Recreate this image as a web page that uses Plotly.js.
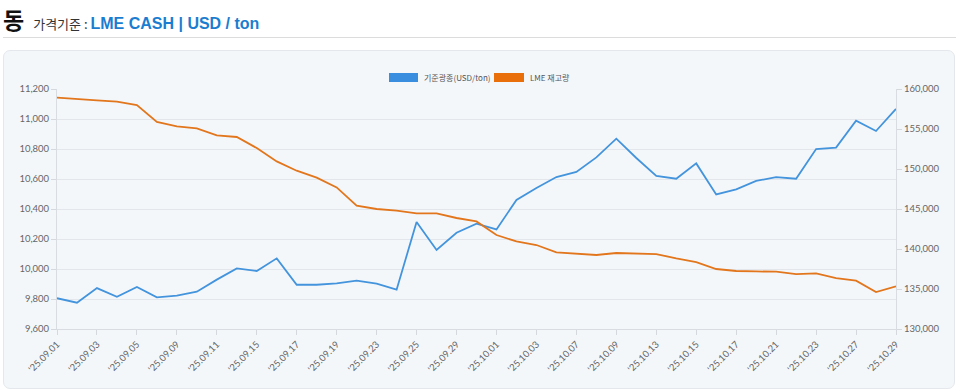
<!DOCTYPE html>
<html>
<head>
<meta charset="utf-8">
<script src="https://cdn.plot.ly/plotly-3.0.1.min.js"></script>
<style>
  html, body { margin: 0; padding: 0; width: 960px; height: 391px; overflow: hidden; background: #ffffff; }
  #hdr { position: absolute; left: 3px; top: 2px; height: 32px; white-space: nowrap; font-family: "Noto Sans CJK KR", "Liberation Sans", sans-serif; }
  #hdr .big { font-size: 23px; font-weight: 700; color: #111; vertical-align: baseline; }
  #hdr .lbl { font-size: 13px; color: #333; margin-left: 9px; vertical-align: baseline; }
  #hdr .val { font-family: "Liberation Sans", Arial, sans-serif; font-size: 16px; font-weight: 700; color: #1b7dcf; vertical-align: baseline; }
  #rule { position: absolute; left: 3px; top: 37px; width: 953px; height: 1px; background: #dcdcdc; }
  #box { position: absolute; left: 3px; top: 50px; width: 950px; height: 337px; background: #f4f7fa; border: 1px solid #e4e8ec; border-radius: 7px; }
  #chart { position: absolute; left: 0; top: 0; width: 960px; height: 391px; }
</style>
</head>
<body>
<div id="hdr"><span class="big">동</span><span class="lbl">가격기준 : </span><span class="val">LME CASH | USD / ton</span></div>
<div id="rule"></div>
<div id="box"></div>
<div id="chart"></div>
<script>
const dates = ["'25.09.01","'25.09.02","'25.09.03","'25.09.04","'25.09.05","'25.09.08","'25.09.09","'25.09.10","'25.09.11","'25.09.12",
  "'25.09.15","'25.09.16","'25.09.17","'25.09.18","'25.09.19","'25.09.22","'25.09.23","'25.09.24","'25.09.25","'25.09.26",
  "'25.09.29","'25.09.30","'25.10.01","'25.10.02","'25.10.03","'25.10.06","'25.10.07","'25.10.08","'25.10.09","'25.10.10",
  "'25.10.13","'25.10.14","'25.10.15","'25.10.16","'25.10.17","'25.10.20","'25.10.21","'25.10.22","'25.10.23","'25.10.24",
  "'25.10.27","'25.10.28","'25.10.29"];

const cashPrice = [9805, 9775, 9873, 9815, 9880, 9811, 9822, 9849, 9929, 10004,
  9987, 10071, 9895, 9895, 9904, 9922, 9902, 9862, 10313, 10127,
  10242, 10302, 10264, 10460, 10540, 10613, 10647, 10744, 10869, 10740,
  10620, 10602, 10704, 10497, 10531, 10587, 10613, 10602, 10800, 10809,
  10989, 10920, 11067];

const lmeStock = [158913, 158787, 158578, 158412, 158000, 155875, 155330, 155080, 154200, 154000,
  152620, 150950, 149787, 148912, 147700, 145412, 145000, 144787, 144450, 144450,
  143875, 143450, 141750, 140950, 140500, 139580, 139450, 139250, 139500, 139450,
  139370, 138820, 138370, 137500, 137250, 137200, 137160, 136870, 136950, 136370,
  136040, 134620, 135330];

const seriesNames = ["기준광종(USD/ton)", "LME 재고량"];
const leftTicks = [9600, 9800, 10000, 10200, 10400, 10600, 10800, 11000, 11200];
const rightTicks = [130000, 135000, 140000, 145000, 150000, 155000, 160000];

const blue = "#4394dc";
const orange = "#e2761c";
const tickFont = { family: "Lato, 'Noto Sans CJK KR', sans-serif", size: 9.5, color: "#666666" };
const legFont = { family: "'Noto Sans CJK KR', Lato, sans-serif", size: 8, color: "#555" };

const traces = [
  { type: "scatter", mode: "lines", x: dates, y: cashPrice, name: seriesNames[0], yaxis: "y",
    line: { color: blue, width: 1.8 }, hoverinfo: "x+y" },
  { type: "scatter", mode: "lines", x: dates, y: lmeStock, name: seriesNames[1], yaxis: "y2",
    line: { color: orange, width: 1.8 }, hoverinfo: "x+y" }
];

const layout = {
  width: 960, height: 391,
  margin: { l: 57, r: 64, t: 89, b: 62 },
  paper_bgcolor: "rgba(0,0,0,0)",
  plot_bgcolor: "rgba(0,0,0,0)",
  showlegend: false,
  xaxis: {
    type: "category", range: [0, dates.length - 1],
    tickmode: "linear", tick0: 0, dtick: 2,
    tickangle: -45, tickfont: tickFont,
    ticks: "outside", ticklen: 5, tickcolor: "#d5d9de",
    showgrid: false, showline: true, linecolor: "#d9dde2", linewidth: 1,
    zeroline: false, fixedrange: true
  },
  yaxis: {
    range: [9600, 11200], tickvals: leftTicks, ticktext: leftTicks.map(v => v.toLocaleString("en-US")),
    tickfont: tickFont, ticks: "outside", ticklen: 5, tickcolor: "#d5d9de",
    showgrid: true, gridcolor: "#e3e7ec", gridwidth: 1,
    showline: true, linecolor: "#d9dde2", zeroline: false, fixedrange: true
  },
  yaxis2: {
    overlaying: "y", side: "right",
    range: [130000, 160000], tickvals: rightTicks, ticktext: rightTicks.map(v => v.toLocaleString("en-US")),
    tickfont: tickFont, ticks: "outside", ticklen: 5, tickcolor: "#d5d9de",
    showgrid: false, showline: true, linecolor: "#d9dde2", zeroline: false, fixedrange: true
  },
  shapes: [
    { type: "rect", xref: "paper", yref: "paper", x0: (389 - 57) / 839, x1: (418 - 57) / 839,
      y0: (329 - 82) / 240, y1: (329 - 73) / 240, fillcolor: "#3a8ee0", line: { width: 0 } },
    { type: "rect", xref: "paper", yref: "paper", x0: (494 - 57) / 839, x1: (524 - 57) / 839,
      y0: (329 - 82) / 240, y1: (329 - 73) / 240, fillcolor: "#e86f0a", line: { width: 0 } }
  ],
  annotations: [
    { xref: "paper", yref: "paper", x: (421.5 - 57) / 839, y: (329 - 77.5) / 240, xanchor: "left", yanchor: "middle",
      text: seriesNames[0], showarrow: false, font: legFont },
    { xref: "paper", yref: "paper", x: (528 - 57) / 839, y: (329 - 77.5) / 240, xanchor: "left", yanchor: "middle",
      text: seriesNames[1], showarrow: false, font: legFont }
  ]
};

Plotly.newPlot("chart", traces, layout, { displayModeBar: false, responsive: false });
</script>
</body>
</html>
